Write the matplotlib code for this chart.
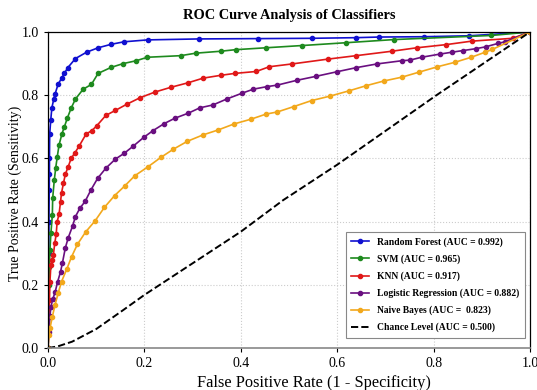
import matplotlib
matplotlib.use("Agg")
import matplotlib.pyplot as plt

plt.rcParams['font.family'] = ['Liberation Serif', 'DejaVu Serif']

# Random Forest
rf_fpr = [0, 0.0005, 0.001, 0.0015, 0.002, 0.0025, 0.003, 0.003, 0.0035, 0.0056, 0.008, 0.012, 0.0145,
          0.021, 0.028, 0.034, 0.041, 0.057, 0.080, 0.104, 0.131, 0.158, 0.207, 0.313, 0.435, 0.547,
          0.639, 0.687, 0.780, 0.874, 1.0]
rf_tpr = [0, 0.10, 0.20, 0.30, 0.40, 0.50, 0.55, 0.60, 0.677, 0.72, 0.76, 0.788, 0.803,
          0.835, 0.853, 0.869, 0.887, 0.916, 0.936, 0.950, 0.961, 0.969, 0.975, 0.978, 0.979, 0.980,
          0.982, 0.984, 0.985, 0.988, 1.0]

# SVM
svm_fpr = [0, 0.001, 0.002, 0.003, 0.004, 0.006, 0.009, 0.0097, 0.013, 0.016, 0.019, 0.023, 0.029,
           0.034, 0.040, 0.048, 0.057, 0.073, 0.090, 0.104, 0.131, 0.156, 0.183, 0.206, 0.275, 0.307,
           0.358, 0.389, 0.452, 0.526, 0.618, 0.718, 0.920, 1.0]
svm_tpr = [0, 0.10, 0.20, 0.257, 0.31, 0.363, 0.421, 0.474, 0.531, 0.570, 0.603, 0.643, 0.678,
           0.700, 0.727, 0.759, 0.788, 0.819, 0.834, 0.869, 0.888, 0.900, 0.909, 0.920, 0.925, 0.933,
           0.939, 0.944, 0.950, 0.957, 0.966, 0.976, 0.989, 1.0]

# KNN
knn_fpr = [0, 0.001, 0.002, 0.003, 0.004, 0.006, 0.008, 0.011, 0.014, 0.017, 0.019, 0.023, 0.026,
           0.028, 0.032, 0.036, 0.042, 0.048, 0.056, 0.065, 0.079, 0.091, 0.101, 0.120, 0.140, 0.163,
           0.191, 0.222, 0.255, 0.290, 0.322, 0.359, 0.388, 0.432, 0.459, 0.507, 0.580, 0.639, 0.713,
           0.765, 0.826, 0.879, 0.964, 1.0]
knn_tpr = [0, 0.06, 0.099, 0.152, 0.21, 0.263, 0.278, 0.294, 0.331, 0.361, 0.400, 0.424, 0.463,
           0.490, 0.521, 0.550, 0.574, 0.600, 0.618, 0.640, 0.677, 0.688, 0.703, 0.736, 0.752, 0.771,
           0.792, 0.810, 0.825, 0.839, 0.854, 0.863, 0.869, 0.875, 0.890, 0.899, 0.914, 0.925, 0.939,
           0.950, 0.960, 0.971, 0.980, 1.0]

# Logistic Regression
lr_fpr = [0, 0.002, 0.004, 0.006, 0.010, 0.015, 0.020, 0.026, 0.030, 0.036, 0.042, 0.051, 0.057,
          0.066, 0.077, 0.089, 0.103, 0.120, 0.140, 0.158, 0.177, 0.199, 0.218, 0.241, 0.263, 0.291,
          0.315, 0.342, 0.371, 0.402, 0.426, 0.454, 0.476, 0.516, 0.557, 0.599, 0.639, 0.683, 0.734,
          0.751, 0.775, 0.813, 0.838, 0.860, 0.887, 0.908, 0.934, 0.948, 1.0]
lr_tpr = [0, 0.05, 0.10, 0.13, 0.155, 0.178, 0.210, 0.241, 0.270, 0.317, 0.349, 0.386, 0.416,
          0.442, 0.464, 0.500, 0.537, 0.569, 0.598, 0.616, 0.639, 0.667, 0.688, 0.710, 0.727, 0.743,
          0.760, 0.769, 0.788, 0.806, 0.819, 0.827, 0.832, 0.847, 0.860, 0.874, 0.887, 0.899, 0.909,
          0.911, 0.920, 0.930, 0.936, 0.941, 0.947, 0.953, 0.964, 0.969, 1.0]

# Naive Bayes
nb_fpr = [0, 0.002, 0.004, 0.009, 0.0145, 0.021, 0.028, 0.039, 0.049, 0.061, 0.078, 0.098, 0.117,
          0.138, 0.160, 0.180, 0.208, 0.234, 0.260, 0.289, 0.321, 0.353, 0.386, 0.421, 0.452, 0.476,
          0.510, 0.547, 0.585, 0.625, 0.660, 0.697, 0.734, 0.770, 0.808, 0.844, 0.878, 0.907, 0.922, 1.0]
nb_tpr = [0, 0.04, 0.062, 0.099, 0.136, 0.173, 0.210, 0.250, 0.289, 0.328, 0.367, 0.403, 0.445,
          0.482, 0.514, 0.545, 0.574, 0.603, 0.629, 0.654, 0.674, 0.690, 0.709, 0.724, 0.740, 0.747,
          0.764, 0.783, 0.797, 0.814, 0.830, 0.845, 0.857, 0.873, 0.890, 0.904, 0.920, 0.936, 0.945, 1.0]

# Chance level
ch_fpr = [0, 0.02, 0.05, 0.10, 0.156, 0.20, 0.40, 0.488, 0.60, 0.806, 1.0]
ch_tpr = [0, 0.005, 0.02, 0.06, 0.12, 0.168, 0.368, 0.468, 0.58, 0.80, 1.0]

names = ['Random Forest (AUC = 0.992)', 'SVM (AUC = 0.965)', 'KNN (AUC = 0.917)',
         'Logistic Regression (AUC = 0.882)', 'Naive Bayes (AUC =  0.823)']
colors = ['#1010d0', '#1e8a1e', '#e01818', '#6a0f80', '#f2a81c']
series = [(rf_fpr, rf_tpr), (svm_fpr, svm_tpr), (knn_fpr, knn_tpr), (lr_fpr, lr_tpr), (nb_fpr, nb_tpr)]

fig = plt.figure(figsize=(5.37, 3.90), dpi=100)
ax = fig.add_axes([0.0894, 0.1077, 0.8976, 0.8103])

for (fx, ty), nm, c in zip(series, names, colors):
    ax.plot(fx, ty, color=c, lw=1.2, marker='o', markersize=3, label=nm)
ax.plot(ch_fpr, ch_tpr, color='black', lw=1.4, ls='--', label='Chance Level (AUC = 0.500)')

ax.set_xlim(0, 1)
ax.set_ylim(0, 1)
ax.set_xticks([0, 0.2, 0.4, 0.6, 0.8, 1.0])
ax.set_yticks([0, 0.2, 0.4, 0.6, 0.8, 1.0])
ax.set_xticklabels(['0.0', '0.2', '0.4', '0.6', '0.8', '1.0'])
ax.set_yticklabels(['0.0', '0.2', '0.4', '0.6', '0.8', '1.0'])
ax.tick_params(labelsize=10, length=3, width=0.8)
ax.grid(True, ls=':', color='#cccccc', lw=0.8)
ax.set_axisbelow(True)
for s in ['left', 'top', 'right']:
    ax.spines[s].set_color('black')
    ax.spines[s].set_linewidth(0.9)
ax.spines['bottom'].set_color('#888888')
ax.spines['bottom'].set_linewidth(1.2)

ax.set_xlabel('False Positive Rate (1 - Specificity)', fontsize=11.8)
ax.xaxis.set_label_coords(0.552, -0.085)
ax.set_ylabel('True Positive Rate (Sensitivity)', fontsize=10)
ax.yaxis.set_label_coords(-0.053, 0.49)
ax.set_title('ROC Curve Analysis of Classifiers', fontsize=10.4, fontweight='bold', pad=9)

leg = ax.legend(loc='lower right', prop={'weight': 'bold', 'size': 6.9}, frameon=True,
                fancybox=False, edgecolor='#888888', framealpha=1, borderpad=0.6,
                labelspacing=0.78, handlelength=1.85, handletextpad=0.8,
                borderaxespad=0.3, bbox_to_anchor=(0.995, 0.022))
leg.get_frame().set_linewidth(0.8)

fig.savefig('out.png', dpi=100)
